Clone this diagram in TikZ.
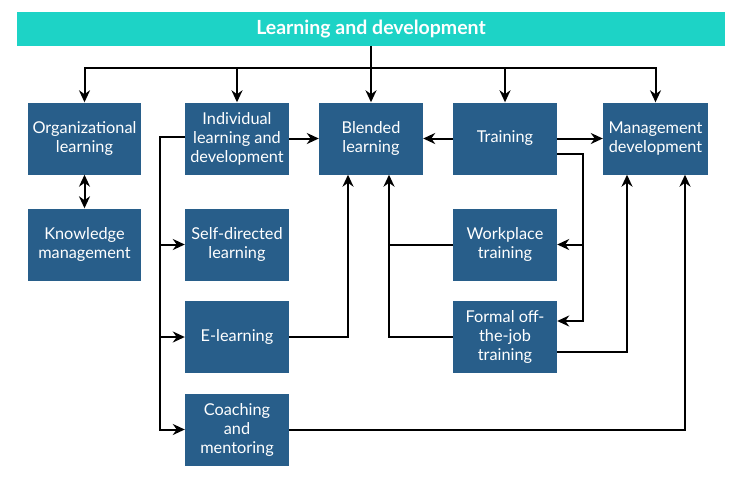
\documentclass[tikz,border=0pt]{standalone}
\usepackage{fontspec}
\setmainfont{Lato}
\usetikzlibrary{arrows.meta,calc}
\definecolor{boxblue}{HTML}{285E8A}
\definecolor{barcyan}{HTML}{1DD3C6}
\begin{document}
\begin{tikzpicture}[x=1pt,y=-1pt,
  box/.style={fill=boxblue,text=white,minimum width=104pt,minimum height=72pt,inner sep=1pt,
    align=center,font=\fontsize{16.3}{19}\selectfont},
  wbox/.style={box,minimum width=113pt},
  arr/.style={draw=black,line width=2pt,-{Stealth[length=12pt,width=11pt]}},
  dbl/.style={draw=black,line width=2pt,{Stealth[length=12pt,width=11pt]}-{Stealth[length=12pt,width=11pt]}},
  ln/.style={draw=black,line width=2pt}]
\useasboundingbox (0,0) rectangle (750,477);
\node[fill=barcyan,text=white,minimum width=708pt,minimum height=34pt,inner sep=0pt,
  font=\fontsize{19.5}{22}\selectfont\bfseries] (top) at (371,29) {Learning and development};
\node[wbox] (org) at (84.5,138.5) {Organizational\\learning};
\node[wbox] (know) at (84.5,244.5) {Knowledge\\management};
\node[box] (indiv) at (237,138.5) {Individual\\learning and\\development};
\node[box] (blend) at (371,138.5) {Blended\\learning};
\node[box] (train) at (505,138.5) {Training};
\node[box,minimum width=105pt] (mgmt) at (655.5,138.5) {Management\\development};
\node[box] (self) at (237,244.5) {Self-directed\\learning};
\node[box] (work) at (505,244.5) {Workplace\\training};
\node[box] (elearn) at (237,337) {E-learning};
\node[box] (formal) at (505,337) {Formal off-\\the-job\\training};
\node[box] (coach) at (237,429.5) {Coaching\\and\\mentoring};
% top bus
\coordinate (bus) at (371,68);
\draw[arr] (top.south) -- (blend.north);
\draw[arr] (bus) -| (org.north);
\draw[arr] (bus) -| (indiv.north);
\draw[arr] (bus) -| (train.north);
\draw[arr] (bus) -| (mgmt.north);
% left column
\draw[dbl] (org.south) -- (know.north);
\draw[arr] (indiv.east) -- (blend.west);
\coordinate (lb) at (160,0);
\coordinate (ia) at ([yshift=2pt]indiv.west);
\draw[arr] (ia) -| (lb |- coach.west) -- (coach.west);
\draw[arr] (lb |- self.west) -- (self.west);
\draw[arr] (lb |- elearn.west) -- (elearn.west);
% to blended
\coordinate (bl) at ([xshift=-23pt]blend.south);
\coordinate (br) at ([xshift=18pt]blend.south);
\draw[arr] (elearn.east) -| (bl);
\draw[arr] (work.west) -| (br);
\draw[ln] (formal.west) -| (br |- work.west);
% training
\draw[arr] (train.west) -- (blend.east);
\draw[arr] (train.east) -- (mgmt.west);
\coordinate (rb) at (583,0);
\coordinate (ta) at ([yshift=-15.5pt]train.east);
\coordinate (fa) at ([yshift=16pt]formal.east);
\draw[arr] (ta) -| (rb |- fa) -- (fa);
\draw[arr] (rb |- work.east) -- (work.east);
% to management
\coordinate (fb) at ([yshift=-15pt]formal.east);
\coordinate (ml) at ([xshift=-28.5pt]mgmt.south);
\coordinate (mr) at ([xshift=29.5pt]mgmt.south);
\draw[arr] (fb) -| (ml);
\draw[arr] (coach.east) -| (mr);
\end{tikzpicture}
\end{document}
